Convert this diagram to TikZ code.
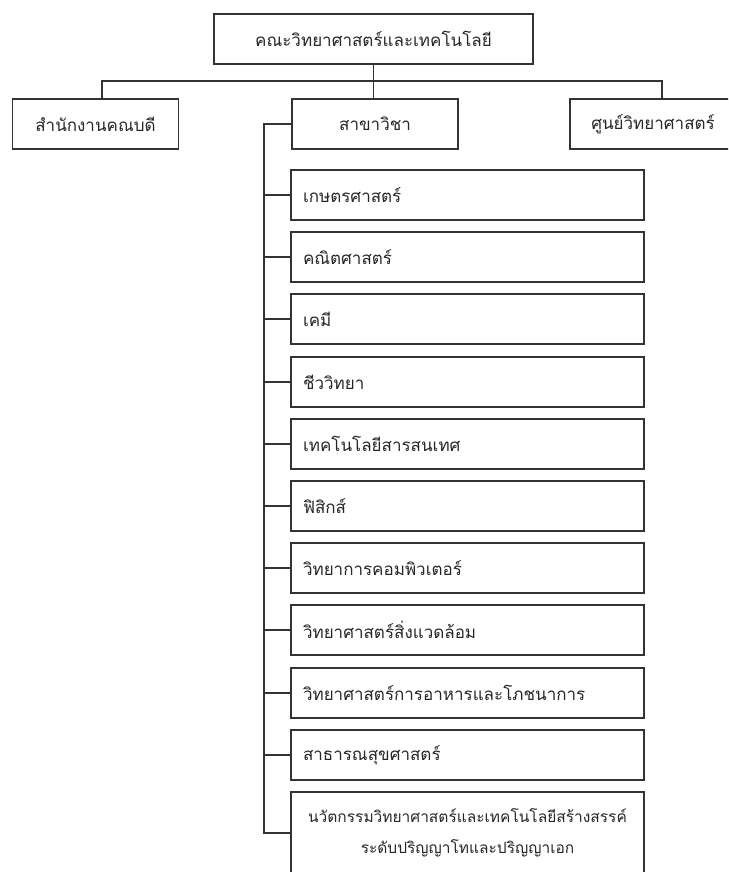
\documentclass[tikz,border=0pt]{standalone}
\usepackage{fontspec}
\newfontfamily\thaifont[Script=Thai]{Loma}
\usetikzlibrary{positioning,calc}
\tikzset{
unit/.style={
  draw=black!80,
  line width=1.6pt,
  rectangle,
  minimum width=166pt,
  minimum height=50pt,
  inner sep=0pt,
  font=\thaifont\fontsize{17}{20}\selectfont,
  text=black!85
  },
subunit/.style={
  unit,
  text width=329pt,
  inner xsep=12pt,
  align=left
  },
link/.style={draw=black!80, line width=1.6pt}
}

\begin{document}
\begin{tikzpicture}[x=1pt,y=-1pt]
    \useasboundingbox (0,0) rectangle (728,872);
    \clip (0,0) rectangle (728,872);
    \node [unit, minimum width=319pt] (fac) at (373.5,39) {คณะวิทยาศาสตร์และเทคโนโลยี};
    \node [unit] (office) at (95.5,124) {สำนักงานคณบดี};
    \node [unit] (dept) at (375,124) {สาขาวิชา};
    \node [unit] (sci) at (653,124) {ศูนย์วิทยาศาสตร์};
    \coordinate (busL) at (102,81);
    \coordinate (busR) at (662,81);
    \coordinate (trunk) at (264,124);
    \draw [link] (fac.south) -- (fac.south |- busL);
    \draw [link] (office.north -| busL) -- (busL) -- (busR) -- (sci.north -| busR);
    \draw [link] (fac.south |- busL) -- (fac.south |- dept.north);
    \foreach \name [count=\i] in {เกษตรศาสตร์, คณิตศาสตร์, เคมี, ชีววิทยา,
        เทคโนโลยีสารสนเทศ, ฟิสิกส์, วิทยาการคอมพิวเตอร์,
        วิทยาศาสตร์สิ่งแวดล้อม, วิทยาศาสตร์การอาหารและโภชนาการ, สาธารณสุขศาสตร์}
    {
        \pgfmathtruncatemacro{\yy}{round(195+(\i-1)*62.2)}
        \node [subunit] (d-\i) at (467.5,\yy) {\name};
        \draw [link] (d-\i.west) -- (d-\i.west -| trunk);
    }
    \node [subunit, minimum height=82pt, text width=341pt, inner xsep=6pt,
        align=center, font=\thaifont\fontsize{15.5}{31}\selectfont] (d-11) at (467.5,833)
        {นวัตกรรมวิทยาศาสตร์และเทคโนโลยีสร้างสรรค์\\ระดับปริญญาโทและปริญญาเอก};
    \draw [link] (dept.west) -- (trunk) -- (d-11.west -| trunk) -- (d-11.west);
\end{tikzpicture}
\end{document}
